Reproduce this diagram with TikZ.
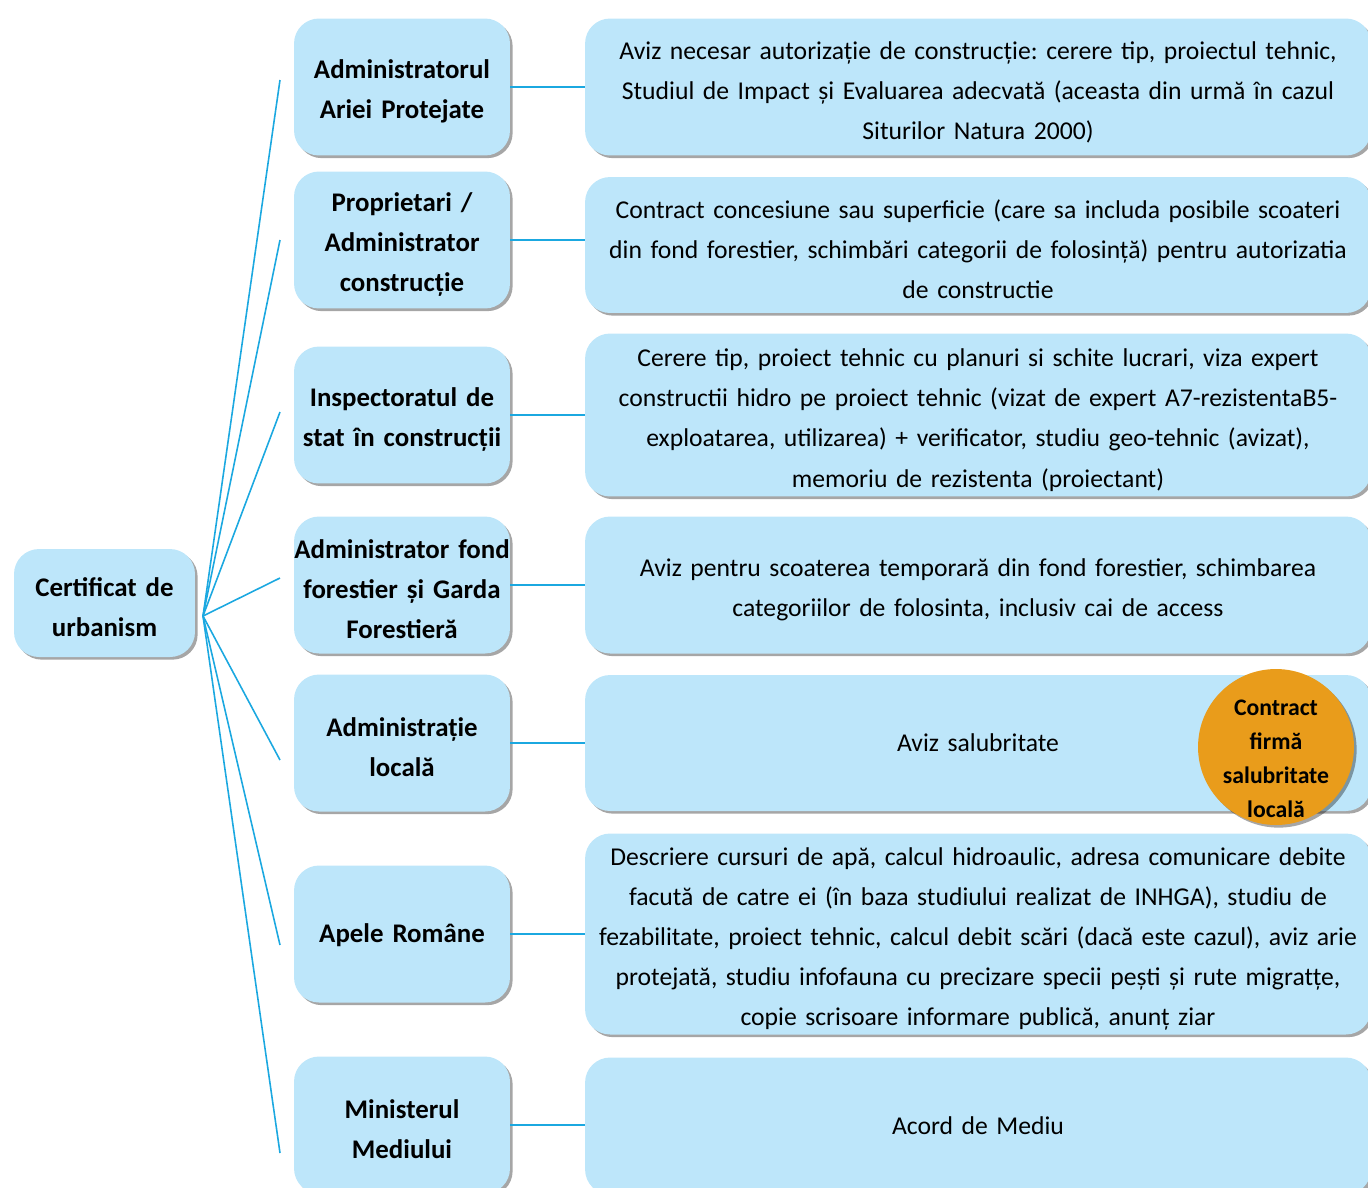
\documentclass[tikz,border=0pt]{standalone}
\usepackage{fontspec}
\setmainfont{Carlito}
\usetikzlibrary{shadows}
\definecolor{boxblue}{HTML}{BDE6FA}
\definecolor{linkblue}{HTML}{1BA8E0}
\definecolor{badge}{HTML}{E99C1B}
\frenchspacing

\begin{document}
\begin{tikzpicture}[x=0.02cm,y=-0.02cm,
    box/.style={rectangle,rounded corners=0.5cm,fill=boxblue,inner sep=0pt,align=center,
      drop shadow={shadow xshift=1.5pt,shadow yshift=-1.5pt,fill=black,opacity=.35},
      font=\fontsize{14.6}{22.8}\selectfont,execute at begin node=\strut},
    midbox/.style={box,minimum width=4.32cm,text width=4.6cm,inner xsep=-0.14cm,minimum height=2.74cm,
      font=\bfseries\fontsize{15.3}{22.8}\selectfont},
    infobox/.style={box,minimum width=15.72cm,text width=15.6cm},
    link/.style={linkblue,line width=0.9pt}]
      \useasboundingbox (0,0) rectangle (1368,1187);
      \clip (0,0) rectangle (1368,1187);

      \node[box,minimum width=3.62cm,text width=3.6cm,minimum height=2.16cm,
        font=\bfseries\fontsize{15.3}{22.8}\selectfont]
        (cert) at (104.5,603) {Certificat de\\urbanism};

      \node[midbox] (m1) at (402,87) {Administratorul\\Ariei Protejate};
      \node[midbox] (m2) at (402,240) {Proprietari /\\Administrator\\construcție};
      \node[midbox] (m3) at (402,415) {Inspectoratul de\\stat în construcții};
      \node[midbox] (m4) at (402,585) {Administrator fond\\forestier și Garda\\Forestieră};
      \node[midbox] (m5) at (402,743) {Administrație\\locală};
      \node[midbox] (m6) at (402,934) {Apele Române};
      \node[midbox] (m7) at (402,1125) {Ministerul\\Mediului};

      \node[infobox,minimum height=2.74cm] (r1) at (978,87)
        {Aviz necesar autorizație de construcție: cerere tip, proiectul tehnic,\\
         Studiul de Impact și Evaluarea adecvată (aceasta din urmă în cazul\\
         Siturilor Natura 2000)};
      \node[infobox,minimum height=2.72cm] (r2) at (978,245)
        {Contract concesiune sau superficie (care sa includa posibile scoateri\\
         din fond forestier, schimbări categorii de folosință) pentru autorizatia\\
         de constructie};
      \node[infobox,minimum height=3.26cm] (r3) at (978,415)
        {Cerere tip, proiect tehnic cu planuri si schite lucrari, viza expert\\
         constructii hidro pe proiect tehnic (vizat de expert A7-rezistentaB5-\\
         exploatarea, utilizarea) + verificator, studiu geo-tehnic (avizat),\\
         memoriu de rezistenta (proiectant)};
      \node[infobox,minimum height=2.74cm] (r4) at (978,585)
        {Aviz pentru scoaterea temporară din fond forestier, schimbarea\\
         categoriilor de folosinta, inclusiv cai de access};
      \node[infobox,minimum height=2.72cm] (r5) at (978,743) {Aviz salubritate};
      \node[infobox,minimum height=4.02cm] (r6) at (978,934)
        {Descriere cursuri de apă, calcul hidroaulic, adresa comunicare debite\\
         facută de catre ei (în baza studiului realizat de INHGA), studiu de\\
         fezabilitate, proiect tehnic, calcul debit scări (dacă este cazul), aviz arie\\
         protejată, studiu infofauna cu precizare specii pești și rute migratțe,\\
         copie scrisoare informare publică, anunț ziar};
      \node[infobox,minimum height=2.74cm] (r7) at (978,1126) {Acord de Mediu};

      \node[circle,fill=badge,minimum size=3.12cm,inner sep=0pt,
        drop shadow={shadow xshift=1.5pt,shadow yshift=-1.5pt,fill=black,opacity=.35},
        label={[align=center,yshift=-0.24cm,font=\bfseries\fontsize{13.5}{19.4}\selectfont]center:Contract\\firmă\\salubritate\\locală}]
        (contract) at (1276,747) {};

      \coordinate (hub) at (203,616);
      \foreach \i/\y in {1/80,2/240,3/412,4/578,5/760,6/945,7/1153}{
        \coordinate (f\i) at (280,\y);
        \draw[link] (hub) -- (f\i);
      }
      \foreach \i in {1,...,7}
        \draw[link] (m\i.east) -- (m\i.east -| r\i.west);
    \end{tikzpicture}
\end{document}
